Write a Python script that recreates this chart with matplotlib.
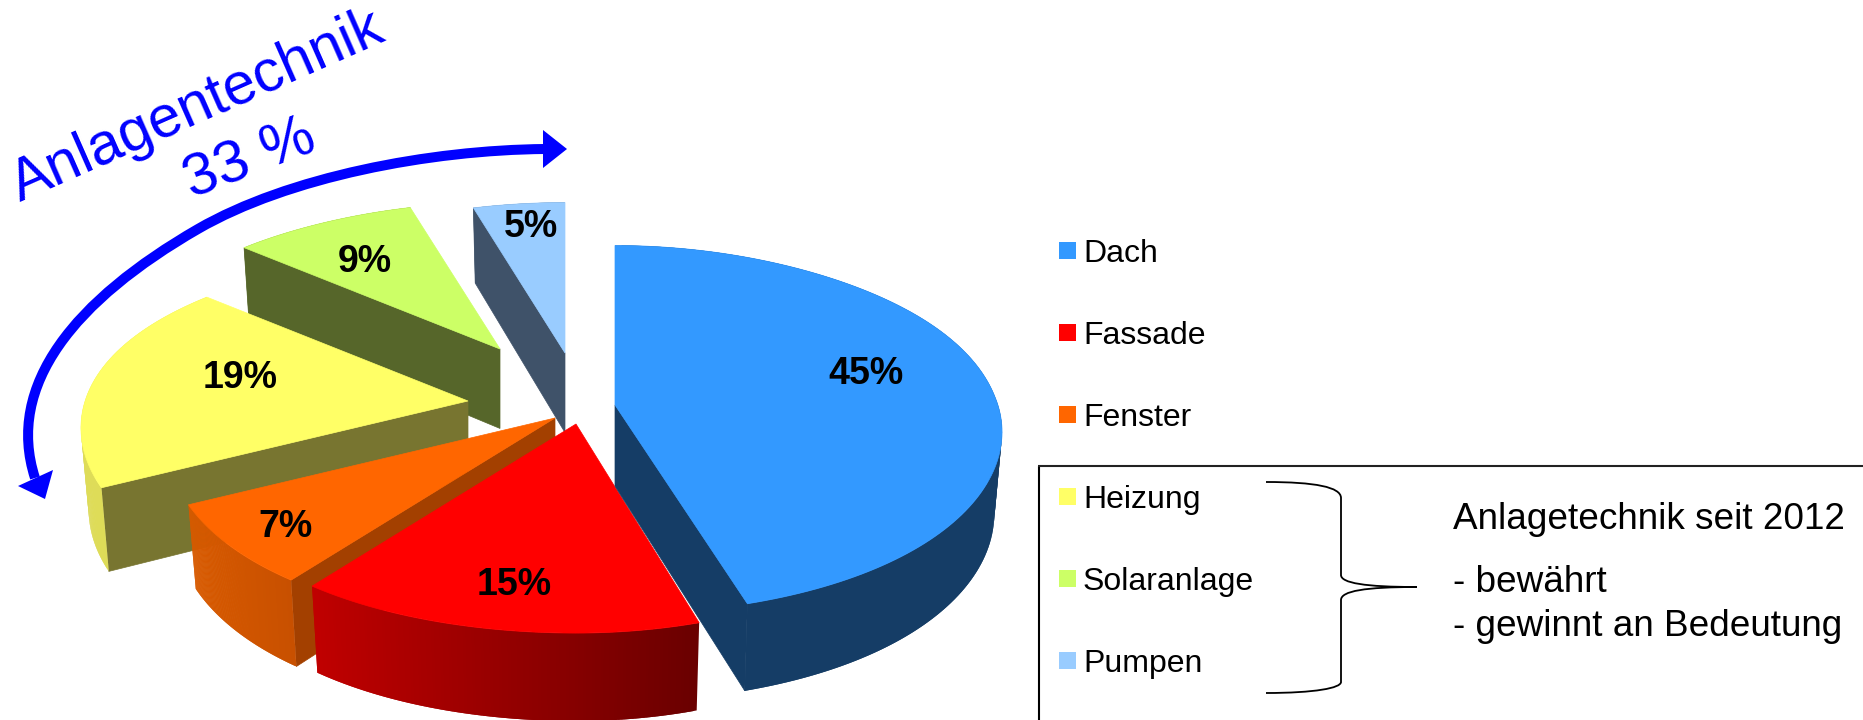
import numpy as np
import matplotlib
matplotlib.use('Agg')
import matplotlib.pyplot as plt
from matplotlib.path import Path
from matplotlib.patches import PathPatch, Rectangle, Polygon
from matplotlib.collections import PolyCollection
from matplotlib.colors import to_rgb

plt.rcParams['font.family'] = ['Liberation Sans', 'DejaVu Sans']

# data
categories = ['Dach', 'Fassade', 'Fenster', 'Heizung', 'Solaranlage', 'Pumpen']
shares = [45.4, 14.6, 7, 19, 9.4, 4.6]

# look of the slices
top_colors = ['#3399FF', '#FF0000', '#FF6600', '#FFFF66', '#CCFF66', '#99CCFF']
radial_colors = ['#153D66', '#7A0000', '#A34000', '#787530', '#56662A', '#3F5269']
side_left = ['#153D66', '#C00000', '#D85A00', '#DEDC58', '#56662A', '#3F5269']
side_right = ['#153D66', '#6A0000', '#C85000', '#DEDC58', '#56662A', '#3F5269']
# where the tip of each pulled out slice ends up, in pixels
tip_x = [615, 576, 555, 468, 500, 565]
tip_y = [405, 424, 418, 401, 349, 353]
far_stretch = [1.06, 1, 1, 1, 0.975, 1]
width_left = [1, 1, 1, 1, 0.98, 1]
width_right = [1, 0.93, 1, 1, 1, 1]
label_x = [866, 514, 286, 240, 365, 531]
label_y = [374, 585, 527, 378, 262, 227]

W, H = 1863, 720
fig = plt.figure(figsize=(W / 100, H / 100), dpi=100)
ax = fig.add_axes([0, 0, 1, 1])
ax.set_xlim(0, W)
ax.set_ylim(H, 0)
ax.axis('off')


def rim(angle, i):
    # tilted pie with perspective, angle clockwise from 12 o'clock
    u = np.sin(angle)
    v = np.cos(angle)
    x = 380 * u / (1 + 0.19 * v)
    x = np.where(u > 0, x * width_right[i], x * width_left[i])
    y = -175 * v / (1 + 0.163 * v)
    y = np.where(v > 0, y * far_stretch[i], y)
    return x, y - 8 * u ** 4


def lower(x, y, x0):
    # same point on the underside of the slice
    return x0 + 0.98 * (x - x0), y + 69 + 0.03 * y


def radial_wall(x0, y0, px, py, cx, cy, color):
    dx, dy = px - x0, py - y0
    nx, ny = -dy, dx
    if (nx * (cx - x0) + ny * (cy - y0)) * ny >= 0:
        return
    bx0, by0 = lower(x0, y0, x0)
    bx1, by1 = lower(px, py, x0)
    ax.add_patch(Polygon([[x0, y0], [px, py], [bx1, by1], [bx0, by0]],
                         fc=color, ec=color, lw=0.5))


edges = np.cumsum([0] + shares) / 100 * 2 * np.pi

for i in [5, 4, 3, 2, 1, 0]:
    t = np.linspace(edges[i], edges[i + 1], 140)
    rx, ry = rim(t, i)
    x = tip_x[i] + rx
    y = tip_y[i] + ry
    cx, cy = x.mean(), y.mean()

    radial_wall(tip_x[i], tip_y[i], x[0], y[0], cx, cy, radial_colors[i])
    radial_wall(tip_x[i], tip_y[i], x[-1], y[-1], cx, cy, radial_colors[i])

    # outer wall as small overlapping strips, shaded from left to right
    bx, by = lower(x, y, tip_x[i])
    left = np.array(to_rgb(side_left[i]))
    right = np.array(to_rgb(side_right[i]))
    quads = []
    cols = []
    for k in range(len(t) - 1):
        n = min(k + 2, len(t) - 1)
        quads.append([[x[k], y[k]], [x[n], y[n]], [bx[n], by[n]], [bx[k], by[k]]])
        f = ((x[k] - x.min()) / (x.max() - x.min()))
        cols.append(left + (right - left) * f)
    ax.add_collection(PolyCollection(quads, facecolors=cols, edgecolors='none', linewidths=0))

    ax.fill(np.r_[tip_x[i], x], np.r_[tip_y[i], y], color=top_colors[i], lw=0.5)
    ax.text(label_x[i], label_y[i], f'{shares[i]:.0f}%', fontsize=27, fontweight='bold',
            ha='center', va='center', color='black')

# legend
for i, name in enumerate(categories):
    yc = 250.5 + 82 * i
    ax.add_patch(Rectangle((1059, yc - 8.5), 17, 17, fc=top_colors[i], ec='none'))
    ax.text(1083, yc + 11.5, name, fontsize=23, va='baseline', ha='left', color='black')

# box round the technical part, runs off the picture
ax.plot([1039, 1039], [H + 5, 466], color='black', lw=1.5, solid_capstyle='butt')
ax.plot([1038, W + 5], [466, 466], color='#222222', lw=1.5, solid_capstyle='butt')

# curly brace
brace = [(1266, 482), (1315, 482), (1341, 487), (1341, 498),
         (1341, 575), (1341, 583), (1365, 587), (1417, 587),
         (1365, 587), (1341, 591), (1341, 600),
         (1341, 682), (1341, 688), (1315, 693), (1266, 693)]
codes = [Path.MOVETO, Path.CURVE4, Path.CURVE4, Path.CURVE4,
         Path.LINETO, Path.CURVE4, Path.CURVE4, Path.CURVE4,
         Path.CURVE4, Path.CURVE4, Path.CURVE4,
         Path.LINETO, Path.CURVE4, Path.CURVE4, Path.CURVE4]
ax.add_patch(PathPatch(Path(brace, codes), fc='none', ec='black', lw=1.3))

ax.text(1453, 529, 'Anlagetechnik seit 2012', fontsize=26.6, color='black')
ax.text(1453, 592, '- bewährt', fontsize=26.6, color='black')
ax.text(1453, 636, '- gewinnt an Bedeutung', fontsize=26.6, color='black')

# blue arrow over the three technical slices
arrow = [(35, 478), (5, 385), (75, 300), (198, 229),
         (288, 177), (430, 150), (545, 149)]
arrow_codes = [Path.MOVETO] + [Path.CURVE4] * 6
ax.add_patch(PathPatch(Path(arrow, arrow_codes), fc='none', ec='#0000FF', lw=7.2, capstyle='butt'))
ax.add_patch(Polygon([[543, 130], [567, 149], [543, 168]], fc='#0000FF', ec='none'))
ax.add_patch(Polygon([[18, 486], [53, 470], [45, 499]], fc='#0000FF', ec='none'))

ax.text(20, 202, 'Anlagentechnik', fontsize=42.3, color='#0000FF', rotation=23.8,
        rotation_mode='anchor', ha='left', va='baseline')
ax.text(250, 160, '33 %', fontsize=43, color='#0000FF', rotation=21,
        rotation_mode='anchor', ha='center', va='center')

fig.savefig('out.png', dpi=100)
